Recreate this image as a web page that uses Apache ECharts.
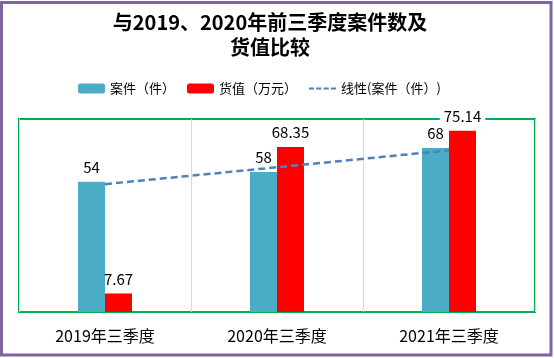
<!DOCTYPE html>
<html><head><meta charset="utf-8">
<script src="https://cdn.jsdelivr.net/npm/echarts@6/dist/echarts.min.js"></script>
<style>html,body{margin:0;padding:0;background:#fff}#c{width:554px;height:358px}</style>
</head><body><div id="c"></div>
<script>
var categories = ['2019年三季度', '2020年三季度', '2021年三季度'];
var cases = [54, 58, 68];
var goodsValue = [7.67, 68.35, 75.14];
var trendCases = [53, 60, 67];
var seriesNames = ['案件（件）', '货值（万元）', '线性(案件（件）)'];
var titleText = '与2019、2020年前三季度案件数及\n货值比较';

var chart = echarts.init(document.getElementById('c'), null, {renderer: 'canvas'});
var font = '"Noto Sans CJK SC", "Noto Sans", sans-serif';
var labelStyle = {show: true, position: 'top', distance: 7, color: '#000', fontSize: 15, fontFamily: font, padding: [0, 4]};
var goodsData = goodsValue.map(function (v, i) {
  return i === goodsValue.length - 1 ? {value: v, label: {backgroundColor: '#fff'}} : v;
});
chart.setOption({
  animation: false,
  title: {text: titleText, left: 265, textAlign: 'center', top: 5,
    textStyle: {fontSize: 20, fontWeight: 'bold', fontFamily: font, color: '#000', lineHeight: 25}},
  legend: {top: 77, left: 73, itemWidth: 27, itemHeight: 10, itemGap: 12,
    textStyle: {fontSize: 13, fontFamily: font, color: '#000'},
    data: [{name: seriesNames[0]}, {name: seriesNames[1]},
      {name: seriesNames[2], icon: 'path://M0,0h7v2.5h-7z M10,0h7v2.5h-7z M20,0h7v2.5h-7z M30,0h7v2.5h-7z'}]},
  graphic: [{type: 'rect', shape: {x: 1.5, y: 2.5, width: 549.5, height: 352.5}, style: {fill: 'none', stroke: '#8064A2', lineWidth: 3}, z: 100}],
  grid: {left: 19, right: 19, top: 119, bottom: 46, show: true, borderColor: '#00B050', borderWidth: 2, containLabel: false},
  xAxis: {type: 'category', data: categories,
    axisLine: {show: false}, axisTick: {show: false},
    splitLine: {show: true, lineStyle: {color: '#D9D9D9', width: 1}},
    axisLabel: {fontSize: 16, fontFamily: font, color: '#000', margin: 16}},
  yAxis: {type: 'value', min: 0, max: 80, show: false, splitLine: {show: false}},
  series: [
    {name: seriesNames[0], type: 'bar', data: cases, barWidth: 27, barGap: '0%', itemStyle: {color: '#4BACC6'}, label: labelStyle, z: 2},
    {name: seriesNames[1], type: 'bar', data: goodsData, barWidth: 27, barGap: '0%', itemStyle: {color: '#FF0000'}, label: labelStyle, z: 3},
    {name: seriesNames[2], type: 'line', data: trendCases, symbol: 'none', showSymbol: false,
      lineStyle: {color: '#4F81BD', width: 2.5, type: [7, 4]}, itemStyle: {color: '#4F81BD'}, z: 5}
  ]
});
</script></body></html>
